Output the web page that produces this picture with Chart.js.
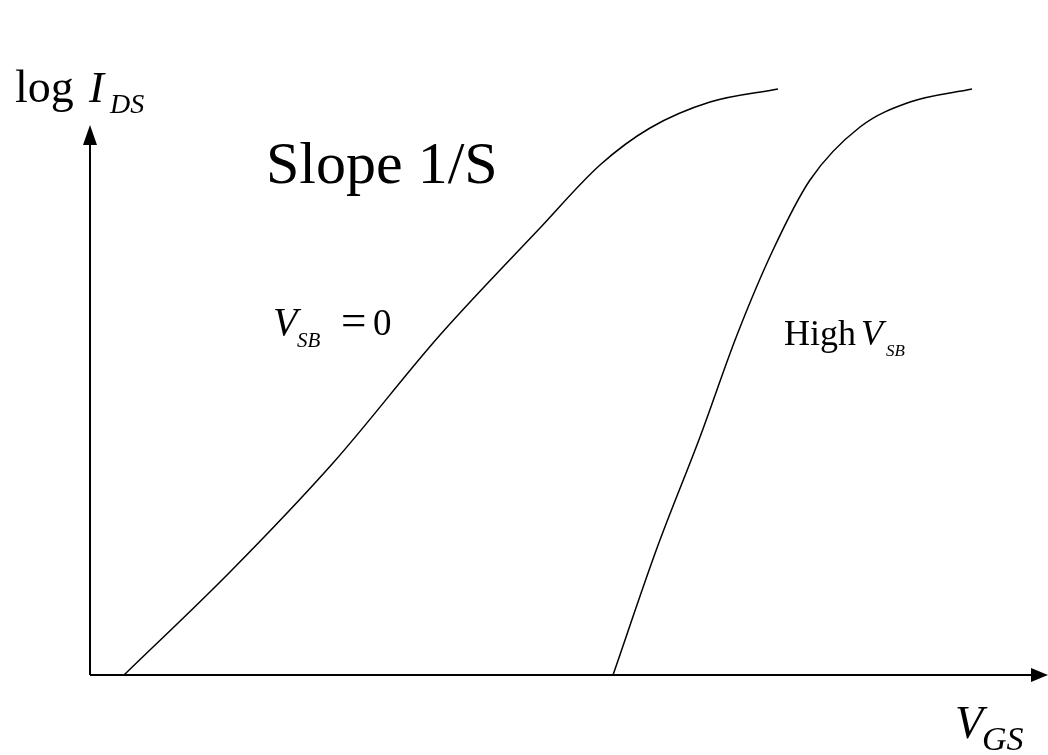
<!DOCTYPE html>
<html>
<head>
<meta charset="utf-8">
<script src="https://cdn.jsdelivr.net/npm/chart.js@4.4.1/dist/chart.umd.min.js"></script>
<style>
  html, body { margin: 0; padding: 0; background: #fff; }
  #wrap { width: 1048px; height: 755px; }
</style>
</head>
<body>
<div id="wrap"><canvas id="myChart" width="1048" height="755"></canvas></div>
<script>
// --- data: V_GS (x) vs log I_DS (y), arbitrary units ---
const vsbZeroX = [3.4, 14.0, 24.3, 35.0, 45.0, 51.0, 56.0, 62.0, 68.8];
const vsbZeroY = [0, 10.3, 21.2, 34.0, 44.7, 51.0, 54.7, 57.3, 58.6];

const vsbHighX = [52.3, 56.7, 61.0, 64.7, 68.3, 72.0, 77.0, 82.0, 88.2];
const vsbHighY = [0, 12.7, 23.8, 34.0, 42.5, 49.5, 54.8, 57.3, 58.6];

// axis arrow ends
const xArrowTip = 95.8;
const yArrowTip = 55;

const toPoints = (xs, ys) => xs.map((x, i) => ({ x: x, y: ys[i] }));

const SERIF = '"Liberation Serif", "DejaVu Serif", serif';

function txt(ctx, s, x, y, size, italic) {
    ctx.font = (italic ? 'italic ' : '') + size + 'px ' + SERIF;
    ctx.fillText(s, x, y);
}

// axes with arrow heads + the labels
const axesPlugin = {
    id: 'arrowAxes',
    afterDatasetsDraw(chart) {
        const ctx = chart.ctx;
        const xs = chart.scales.x, ys = chart.scales.y;
        const x0 = xs.getPixelForValue(0), y0 = ys.getPixelForValue(0);
        const xt = xs.getPixelForValue(xArrowTip), yt = ys.getPixelForValue(yArrowTip);

        ctx.save();
        ctx.strokeStyle = '#000';
        ctx.fillStyle = '#000';
        ctx.lineWidth = 2;

        ctx.beginPath();
        ctx.moveTo(x0, y0);
        ctx.lineTo(xt - 14, y0);
        ctx.moveTo(x0, y0);
        ctx.lineTo(x0, yt + 14);
        ctx.stroke();

        // x arrow head
        ctx.beginPath();
        ctx.moveTo(xt, y0);
        ctx.lineTo(xt - 17, y0 - 7);
        ctx.lineTo(xt - 17, y0 + 7);
        ctx.closePath();
        ctx.fill();

        // y arrow head
        ctx.beginPath();
        ctx.moveTo(x0, yt);
        ctx.lineTo(x0 - 7, yt + 20);
        ctx.lineTo(x0 + 7, yt + 20);
        ctx.closePath();
        ctx.fill();

        ctx.textBaseline = 'alphabetic';
        ctx.textAlign = 'left';

        txt(ctx, 'log', 15, 102, 46, false);
        txt(ctx, 'I', 89, 102, 45, true);
        txt(ctx, 'DS', 110, 113, 28, true);

        txt(ctx, 'Slope 1/S', 266, 183, 60, false);

        txt(ctx, 'V', 273, 335, 40, true);
        txt(ctx, 'SB', 297, 347, 21, true);
        txt(ctx, '=', 341, 335, 45, false);
        txt(ctx, '0', 373, 335, 37, false);

        txt(ctx, 'High', 784, 345, 36, false);
        txt(ctx, 'V', 861, 345, 36, true);
        txt(ctx, 'SB', 886, 356, 17, true);

        txt(ctx, 'V', 955, 738, 46, true);
        txt(ctx, 'GS', 982, 750, 34, true);

        ctx.restore();
    }
};

const lineStyle = {
    borderColor: '#000',
    borderWidth: 1.5,
    pointRadius: 0,
    fill: false,
    cubicInterpolationMode: 'monotone',
    clip: false
};

new Chart(document.getElementById('myChart').getContext('2d'), {
    type: 'line',
    data: {
        datasets: [
            Object.assign({ label: 'VSB = 0', data: toPoints(vsbZeroX, vsbZeroY) }, lineStyle),
            Object.assign({ label: 'High VSB', data: toPoints(vsbHighX, vsbHighY) }, lineStyle)
        ]
    },
    options: {
        responsive: false,
        animation: false,
        layout: { padding: { left: 90, right: 0, top: 75, bottom: 80 } },
        plugins: { legend: { display: false }, tooltip: { enabled: false } },
        scales: {
            x: { type: 'linear', min: 0, max: 95.8, display: false },
            y: { type: 'linear', min: 0, max: 60, display: false }
        }
    },
    plugins: [axesPlugin]
});
</script>
</body>
</html>
